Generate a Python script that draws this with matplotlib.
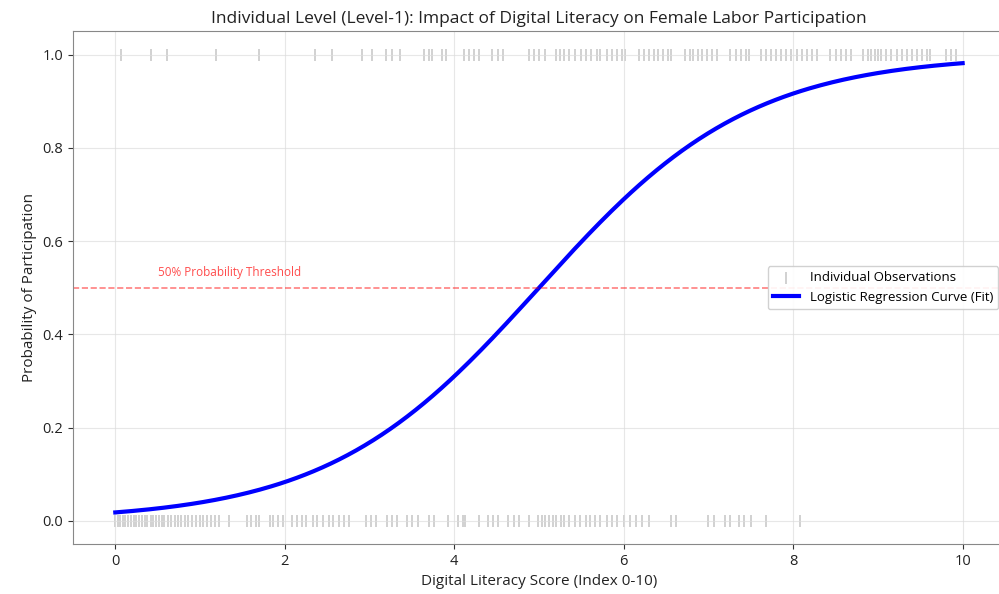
import numpy as np
import matplotlib.pyplot as plt

plt.rcParams['font.family'] = ['Open Sans', 'DejaVu Sans']

# Digital literacy scores of women not participating (0) and participating (1)
scores_no = [0.00, 0.03, 0.06, 0.09, 0.12, 0.15, 0.18, 0.22, 0.25, 0.28, 0.31, 0.35,
             0.38, 0.42, 0.45, 0.48, 0.52, 0.55, 0.58, 0.62, 0.66, 0.70, 0.74, 0.78,
             0.82, 0.86, 0.90, 0.95, 1.00, 1.04, 1.08, 1.13, 1.18, 1.22, 1.34, 1.55,
             1.60, 1.66, 1.70, 1.82, 1.86, 1.92, 1.98, 2.08, 2.14, 2.20, 2.25, 2.33,
             2.38, 2.45, 2.52, 2.57, 2.64, 2.70, 2.76, 2.96, 3.02, 3.08, 3.21, 3.26,
             3.33, 3.44, 3.50, 3.57, 3.70, 3.76, 3.93, 4.05, 4.10, 4.13, 4.29, 4.40,
             4.46, 4.52, 4.64, 4.70, 4.76, 4.88, 4.99, 5.03, 5.07, 5.12, 5.16, 5.20,
             5.26, 5.30, 5.36, 5.42, 5.48, 5.55, 5.60, 5.66, 5.72, 5.80, 5.86, 5.92,
             6.00, 6.08, 6.15, 6.22, 6.30, 6.56, 6.62, 7.00, 7.06, 7.20, 7.26, 7.36,
             7.42, 7.50, 7.68, 8.08]
scores_yes = [0.07, 0.42, 0.61, 1.19, 1.70, 2.36, 2.56, 2.91, 3.03, 3.20, 3.26, 3.36,
              3.64, 3.70, 3.74, 3.85, 3.90, 4.11, 4.17, 4.23, 4.29, 4.44, 4.52, 4.58,
              4.88, 4.94, 5.00, 5.07, 5.20, 5.25, 5.30, 5.36, 5.42, 5.50, 5.56, 5.62,
              5.68, 5.72, 5.80, 5.86, 5.92, 5.98, 6.02, 6.18, 6.24, 6.30, 6.36, 6.40,
              6.46, 6.52, 6.56, 6.72, 6.78, 6.82, 6.88, 6.92, 6.98, 7.04, 7.10, 7.26,
              7.32, 7.38, 7.44, 7.48, 7.62, 7.68, 7.74, 7.80, 7.86, 7.92, 7.98, 8.04,
              8.10, 8.16, 8.22, 8.28, 8.44, 8.50, 8.56, 8.62, 8.68, 8.82, 8.88, 8.92,
              8.96, 9.00, 9.04, 9.10, 9.16, 9.22, 9.28, 9.34, 9.40, 9.46, 9.52, 9.58,
              9.62, 9.80, 9.86, 9.92]

# fitted logistic model: logit(p) = b0 + b1 * score
b0 = -4.0
b1 = 0.8
threshold = 0.5

x_obs = scores_no + scores_yes
y_obs = [0] * len(scores_no) + [1] * len(scores_yes)

x_fit = np.linspace(0, 10, 300)
y_fit = 1 / (1 + np.exp(-(b0 + b1 * x_fit)))

fig = plt.figure(figsize=(9.99, 5.94), dpi=100)
ax = fig.add_axes([0.073, 0.084, 0.933, 0.863])

ax.scatter(x_obs, y_obs, marker='|', s=70, color='#666666', alpha=0.35,
           linewidths=1.2, label='Individual Observations')
ax.plot(x_fit, y_fit, color='blue', linewidth=3,
        label='Logistic Regression Curve (Fit)')
ax.axhline(threshold, color='red', linestyle='--', linewidth=1.2, alpha=0.5)
ax.text(0.5, threshold + 0.025, '50% Probability Threshold', color='red',
        alpha=0.7, fontsize=8.5)

ax.set_xlim(-0.5, 10.5)
ax.set_ylim(-0.05, 1.05)
ax.set_xticks([0, 2, 4, 6, 8, 10])
ax.set_yticks([0.0, 0.2, 0.4, 0.6, 0.8, 1.0])
ax.grid(True, color='#dddddd', linewidth=0.8, alpha=0.7)
ax.tick_params(labelsize=10.5, colors='#333333', labelcolor='#222222')
for s in ax.spines.values():
    s.set_color('#888888')

ax.set_title('Individual Level (Level-1): Impact of Digital Literacy on Female Labor Participation',
             fontsize=12.5, color='#222222')
ax.set_xlabel('Digital Literacy Score (Index 0-10)', fontsize=11, color='#222222')
ax.set_ylabel('Probability of Participation', fontsize=11, color='#222222')
ax.legend(loc='center right', fontsize=9.5, framealpha=0.9)

plt.savefig('out.png', dpi=100)
